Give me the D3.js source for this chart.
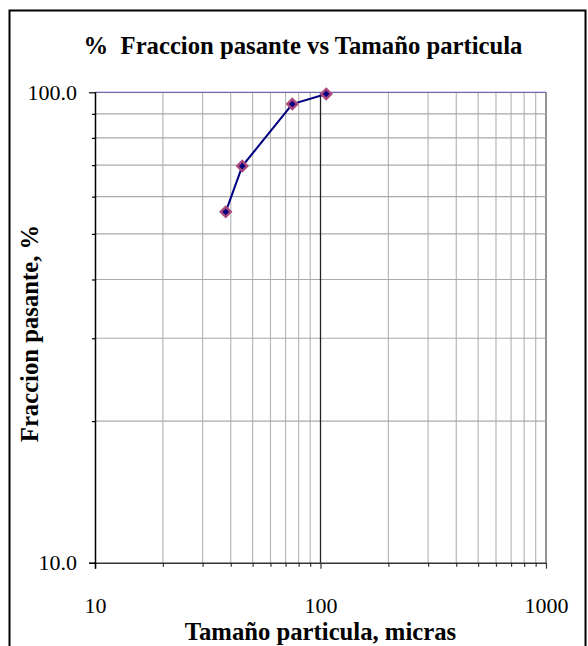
<!DOCTYPE html>
<html>
<head>
<meta charset="utf-8">
<script src="https://cdn.jsdelivr.net/npm/d3@7/dist/d3.min.js"></script>
<style>
  html, body { margin: 0; padding: 0; background: #fff; }
  svg { display: block; }
</style>
</head>
<body>
<svg id="chart" width="588" height="646"></svg>
<script>
// Particle size (microns) and cumulative percent passing
const sizes = [38, 45, 75, 106];
const passing = [55.7, 69.7, 94.4, 99.2];

// Tick values for the log axes
const xMajor = [10, 100, 1000];
const xMinor = [20, 30, 40, 50, 60, 70, 80, 90, 200, 300, 400, 500, 600, 700, 800, 900];
const yMajor = [10, 100];
const yMinor = [20, 30, 40, 50, 60, 70, 80, 90];

const titleText = "%  Fraccion pasante vs Tamaño particula";
const xTitle = "Tamaño particula, micras";
const yTitle = "Fraccion pasante, %";

const FONT = "'Liberation Serif', 'Times New Roman', 'DejaVu Serif', serif";

const svg = d3.select("#chart");
const plot = { left: 95, right: 546, top: 92.3, bottom: 562.7 };

const x = d3.scaleLog().domain([10, 1000]).range([plot.left, plot.right]);
const y = d3.scaleLog().domain([10, 100]).range([plot.bottom, plot.top]);

// outer frame
svg.append("rect")
  .attr("x", 9.5).attr("y", 10.5)
  .attr("width", 576).attr("height", 660)
  .attr("fill", "#fff").attr("stroke", "#000").attr("stroke-width", 2);

// grid lines
const grid = svg.append("g");
grid.selectAll("line.vx")
  .data(xMinor.concat([1000]))
  .join("line")
  .attr("x1", d => x(d)).attr("x2", d => x(d))
  .attr("y1", plot.top).attr("y2", plot.bottom)
  .attr("stroke", d => d === 1000 ? "#707070" : "#b8b8b8")
  .attr("stroke-width", d => d === 1000 ? 1.5 : 1.2);
grid.selectAll("line.hy")
  .data(yMinor)
  .join("line")
  .attr("x1", plot.left).attr("x2", plot.right)
  .attr("y1", d => y(d)).attr("y2", d => y(d))
  .attr("stroke", "#aaaaaa").attr("stroke-width", 1.2);
// decade line at 100 microns
grid.append("line")
  .attr("x1", x(100)).attr("x2", x(100))
  .attr("y1", plot.top).attr("y2", plot.bottom)
  .attr("stroke", "#222").attr("stroke-width", 1.3);
// top edge at 100 %
grid.append("line")
  .attr("x1", plot.left).attr("x2", plot.right)
  .attr("y1", y(100)).attr("y2", y(100))
  .attr("stroke", "#6a6aaa").attr("stroke-width", 1.2);

// x axis
const xAxis = svg.append("g").attr("transform", `translate(0,${plot.bottom})`);
xAxis.call(d3.axisBottom(x).tickValues(xMajor).tickSize(6).tickPadding(29)
  .tickFormat(d3.format("d")));
xAxis.append("g").call(d3.axisBottom(x).tickValues(xMinor).tickSize(4).tickFormat(""))
  .select(".domain").remove();
xAxis.selectAll("line").attr("stroke", "#333").attr("stroke-width", 1.2);
xAxis.select(".domain").attr("stroke", "#333").attr("stroke-width", 1.5)
  .attr("d", `M${plot.left - 6},0.5H${plot.right}`);

// y axis
const yAxis = svg.append("g").attr("transform", `translate(${plot.left},0)`);
yAxis.call(d3.axisLeft(y).tickValues(yMajor).tickSize(6).tickPadding(12)
  .tickFormat(d3.format(".1f")));
yAxis.append("g").call(d3.axisLeft(y).tickValues(yMinor).tickSize(3).tickFormat(""))
  .select(".domain").remove();
yAxis.selectAll("line").attr("stroke", "#000").attr("stroke-width", 1.2);
yAxis.select(".domain").attr("stroke", "#000").attr("stroke-width", 1.5)
  .attr("d", `M0.5,${plot.top}V${plot.bottom + 6}`);

svg.selectAll(".tick text")
  .attr("font-family", null)
  .style("font-family", FONT)
  .style("font-size", "22px")
  .attr("fill", "#000");

// data line and markers
const pts = sizes.map((s, i) => [s, passing[i]]);
svg.append("path")
  .datum(pts)
  .attr("fill", "none")
  .attr("stroke", "#000080")
  .attr("stroke-width", 2)
  .attr("d", d3.line().x(d => x(d[0])).y(d => y(d[1])));

svg.append("g").selectAll("path")
  .data(pts)
  .join("path")
  .attr("transform", d => `translate(${x(d[0])},${y(d[1])})`)
  .attr("d", d3.symbol().type(d3.symbolDiamond2).size(64))
  .attr("fill", "#000080")
  .attr("stroke", "#a8487c")
  .attr("stroke-width", 2.4);

// titles
svg.append("text")
  .attr("x", 303).attr("y", 54)
  .attr("text-anchor", "middle")
  .style("font-family", FONT)
  .style("font-size", "24.7px").style("font-weight", "bold")
  .style("white-space", "pre")
  .text(titleText);

svg.append("text")
  .attr("x", (plot.left + plot.right) / 2).attr("y", 640)
  .attr("text-anchor", "middle")
  .style("font-family", FONT)
  .style("font-size", "24.7px").style("font-weight", "bold")
  .text(xTitle);

svg.append("text")
  .attr("transform", `translate(38,${(plot.top + plot.bottom) / 2 + 6}) rotate(-90)`)
  .attr("text-anchor", "middle")
  .style("font-family", FONT)
  .style("font-size", "24.7px").style("font-weight", "bold")
  .text(yTitle);
</script>
</body>
</html>
